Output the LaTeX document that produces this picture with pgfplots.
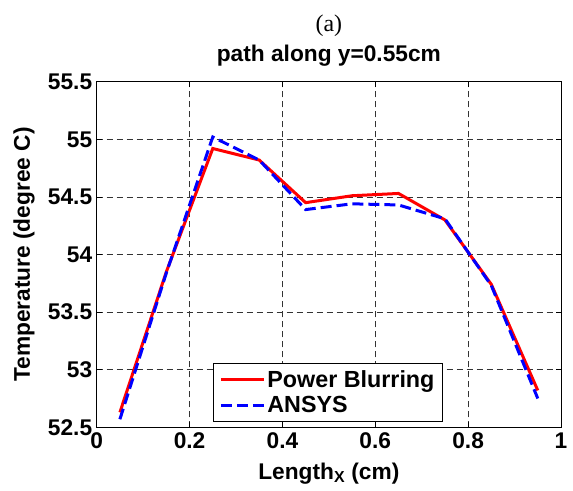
\documentclass[border=0pt]{standalone}
\usepackage{pgfplots}
\pgfplotsset{compat=1.18}
\usepackage{fontspec}
\setmainfont{Liberation Sans}
\newfontfamily\timesfont{Liberation Serif}
\begin{document}
\begin{tikzpicture}
\path[use as bounding box] (-96.7bp,-63.7bp) rectangle (476.3bp,427.3bp);
\begin{axis}[
  name=ax,
  at={(0,0)}, anchor=south west,
  scale only axis,
  width=464.3bp, height=345.6bp,
  xmin=0, xmax=1, ymin=52.5, ymax=55.5,
  xtick={0,0.2,0.4,0.6,0.8,1},
  ytick={52.5,53,53.5,54,54.5,55,55.5},
  xticklabels={0,0.2,0.4,0.6,0.8,1},
  yticklabels={52.5,53,53.5,54,54.5,55,55.5},
  tick align=inside,
  tick pos=both,
  major tick length=5bp,
  grid=major,
  major grid style={black!80, line width=0.7bp, dash pattern=on 6bp off 4bp},
  axis line style={black, line width=0.9bp},
  tick style={black, line width=0.7bp},
  ticklabel style={font=\fontsize{22.8}{26}\selectfont\bfseries},
  xticklabel style={yshift=-2bp},
  yticklabel style={xshift=-1bp},
  label style={font=\fontsize{22.8}{26}\selectfont\bfseries},
  xlabel={Length\textsubscript{X} (cm)},
  xlabel style={at={(axis description cs:0.5,0)}, anchor=base, yshift=-51.7bp},
  ylabel={Temperature (degree C)},
  ylabel style={at={(axis description cs:-0.1566,0.5)}, anchor=center, rotate=0},
  legend style={at={(axis description cs:0.2505,0.0162)}, anchor=south west, draw=black, line width=0.8bp,
    font=\fontsize{23.4}{26}\selectfont\bfseries, inner xsep=6bp, inner ysep=3bp,
    nodes={inner ysep=4bp}},
  legend cell align=left,
  legend image code/.code={\draw[#1] (0bp,0bp) -- (43bp,0bp);},
]
\addplot[red, line width=3bp] coordinates {
(0.05,52.63) (0.15,53.85) (0.25,54.92) (0.35,54.82) (0.45,54.45)
(0.55,54.51) (0.65,54.53) (0.75,54.30) (0.85,53.74) (0.95,52.82)};
\addlegendentry{Power Blurring}
\addplot[blue, line width=3bp, dash pattern=on 11bp off 5bp] coordinates {
(0.05,52.57) (0.15,53.84) (0.25,55.02) (0.35,54.82) (0.45,54.39)
(0.55,54.44) (0.65,54.43) (0.75,54.31) (0.85,53.73) (0.95,52.75)};
\addlegendentry{ANSYS}
\end{axis}
\node[anchor=base, font=\fontsize{22.8}{26}\selectfont\bfseries] at ([yshift=20bp]ax.north) {path along y=0.55cm};
\node[anchor=base, font=\fontsize{24}{27}\selectfont\timesfont] at ([yshift=50bp]ax.north) {(a)};
\end{tikzpicture}
\end{document}
